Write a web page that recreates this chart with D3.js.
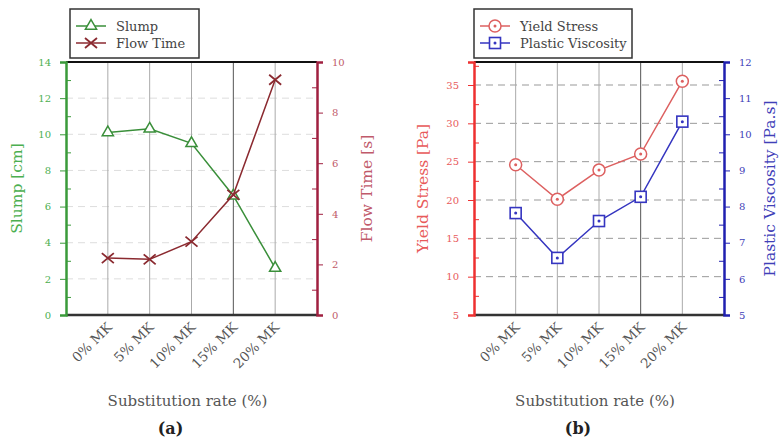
<!DOCTYPE html>
<html>
<head>
<meta charset="utf-8">
<script src="https://cdn.jsdelivr.net/npm/d3@7"></script>
<style>
  body { margin: 0; background: #fff; }
  svg text { font-family: "DejaVu Serif", "Liberation Serif", serif; }
</style>
</head>
<body>
<svg id="chart" width="782" height="441"></svg>
<script>
// --- data ---
const categories = ["0% MK", "5% MK", "10% MK", "15% MK", "20% MK"];
const slump = [10.1, 10.3, 9.5, 6.6, 2.6];
const flowTime = [2.25, 2.2, 2.9, 4.75, 9.3];
const yieldStress = [24.6, 20.1, 23.9, 26.0, 35.5];
const plasticViscosity = [7.82, 6.58, 7.6, 8.27, 10.35];

const slumpTicks = [0, 2, 4, 6, 8, 10, 12, 14];
const slumpMinor = [1, 3, 5, 7, 9, 11, 13];
const flowTicks = [0, 2, 4, 6, 8, 10];
const flowMinor = [1, 3, 5, 7, 9];
const yieldTicks = [5, 10, 15, 20, 25, 30, 35];
const yieldMinor = [7.5, 12.5, 17.5, 22.5, 27.5, 32.5, 37.5];
const viscTicks = [5, 6, 7, 8, 9, 10, 11, 12];
const viscMinor = [5.5, 6.5, 7.5, 8.5, 9.5, 10.5, 11.5];

const svg = d3.select("#chart");
svg.append("rect").attr("width", 782).attr("height", 441).attr("fill", "#fff");

const plotTop = 62, plotBottom = 315;

function drawPanel(p) {
    const g = svg.append("g");
    const x = d3.scalePoint().domain(categories).range([p.x0, p.x1]).padding(1);
    const yL = d3.scaleLinear().domain(p.leftDomain).range([plotBottom, plotTop]);
    const yR = d3.scaleLinear().domain(p.rightDomain).range([plotBottom, plotTop]);
    const fmt = d3.format("~g");

    // horizontal dashed grid
    g.append("g").selectAll("line")
        .data(p.gridTicks)
        .join("line")
        .attr("x1", p.x0).attr("x2", p.x1)
        .attr("y1", d => yL(d)).attr("y2", d => yL(d))
        .attr("stroke", p.gridColor).attr("stroke-width", 1)
        .attr("stroke-dasharray", "7,5");

    // vertical category grid
    g.append("g").selectAll("line")
        .data(categories)
        .join("line")
        .attr("x1", d => x(d)).attr("x2", d => x(d))
        .attr("y1", plotTop).attr("y2", plotBottom)
        .attr("stroke", (d, i) => i === 3 ? "#555" : "#aaa")
        .attr("stroke-width", 1);

    // top / bottom frame
    g.append("line").attr("x1", p.x0).attr("x2", p.x1).attr("y1", plotTop).attr("y2", plotTop)
        .attr("stroke", "#111").attr("stroke-width", 2);
    g.append("line").attr("x1", p.x0).attr("x2", p.x1).attr("y1", plotBottom).attr("y2", plotBottom)
        .attr("stroke", "#333").attr("stroke-width", 2.5);

    // left axis
    const axL = g.append("g").attr("transform", `translate(${p.x0},0)`)
        .call(d3.axisLeft(yL).tickValues(p.leftTicks).tickFormat(fmt).tickSize(6).tickPadding(9));
    g.append("g").attr("transform", `translate(${p.x0},0)`)
        .call(d3.axisLeft(yL).tickValues(p.leftMinor).tickSize(-5).tickFormat(""))
        .call(a => a.select(".domain").remove())
        .selectAll("line").attr("stroke", p.leftColor);
    axL.select(".domain").attr("stroke", p.leftColor).attr("stroke-width", 2.5);
    axL.selectAll(".tick line").attr("stroke", p.leftColor);
    axL.selectAll("text").attr("fill", p.leftText)
        .style("font-family", "DejaVu Serif").style("font-size", "10px");

    // right axis
    const axR = g.append("g").attr("transform", `translate(${p.x1},0)`)
        .call(d3.axisRight(yR).tickValues(p.rightTicks).tickFormat(fmt).tickSize(6).tickPadding(9));
    g.append("g").attr("transform", `translate(${p.x1},0)`)
        .call(d3.axisRight(yR).tickValues(p.rightMinor).tickSize(-5).tickFormat(""))
        .call(a => a.select(".domain").remove())
        .selectAll("line").attr("stroke", p.rightColor);
    axR.select(".domain").attr("stroke", p.rightColor).attr("stroke-width", 2.5);
    axR.selectAll(".tick line").attr("stroke", p.rightColor);
    axR.selectAll("text").attr("fill", p.rightText)
        .style("font-family", "DejaVu Serif").style("font-size", "10px");

    // x labels, rotated
    g.append("g").selectAll("text")
        .data(categories)
        .join("text")
        .attr("transform", d => `translate(${x(d) + 5},${plotBottom + 13}) rotate(-45)`)
        .attr("text-anchor", "end")
        .attr("fill", "#555")
        .style("font-size", "13.5px")
        .text(d => d);

    // axis titles
    g.append("text")
        .attr("transform", `translate(${p.leftTitleX},${(plotTop + plotBottom) / 2}) rotate(-90)`)
        .attr("text-anchor", "middle").attr("dominant-baseline", "central")
        .attr("fill", p.leftText).style("font-size", "15.5px")
        .text(p.leftTitle);
    g.append("text")
        .attr("transform", `translate(${p.rightTitleX},${(plotTop + plotBottom) / 2}) rotate(-90)`)
        .attr("text-anchor", "middle").attr("dominant-baseline", "central")
        .attr("fill", p.rightText).style("font-size", "15.5px")
        .text(p.rightTitle);
    g.append("text")
        .attr("x", (p.x0 + p.x1) / 2 - 4).attr("y", 406)
        .attr("text-anchor", "middle").attr("fill", "#555").style("font-size", "15px")
        .text("Substitution rate (%)");
    g.append("text")
        .attr("x", (p.x0 + p.x1) / 2 - 21).attr("y", 434)
        .attr("text-anchor", "middle").attr("fill", "#222")
        .style("font-size", "16px").style("font-weight", "bold")
        .text(p.panel);

    // series
    const series = [
        { vals: p.leftVals, y: yL, color: p.leftLine, marker: p.leftMarker },
        { vals: p.rightVals, y: yR, color: p.rightLine, marker: p.rightMarker }
    ];
    series.forEach(s => {
        const pts = categories.map((c, i) => [x(c), s.y(s.vals[i])]);
        g.append("path")
            .attr("d", d3.line()(pts))
            .attr("fill", "none").attr("stroke", s.color).attr("stroke-width", 1.5);
        pts.forEach(pt => drawMarker(g, s.marker, pt[0], pt[1], s.color));
    });

    // legend
    const lg = g.append("g");
    lg.append("rect")
        .attr("x", p.legX).attr("y", 9).attr("width", p.legW).attr("height", 49)
        .attr("fill", "#fff").attr("stroke", "#333").attr("stroke-width", 1.5);
    const items = [
        { name: p.leftName, color: p.leftLine, marker: p.leftMarker, y: 26 },
        { name: p.rightName, color: p.rightLine, marker: p.rightMarker, y: 43 }
    ];
    items.forEach(it => {
        lg.append("line")
            .attr("x1", p.legX + 6).attr("x2", p.legX + 36)
            .attr("y1", it.y).attr("y2", it.y)
            .attr("stroke", it.color).attr("stroke-width", 1.5);
        drawMarker(lg, it.marker, p.legX + 21, it.y, it.color);
        lg.append("text")
            .attr("x", p.legX + 46).attr("y", it.y).attr("dy", "0.35em")
            .attr("fill", "#444").style("font-size", "13px")
            .text(it.name);
    });
}

function drawMarker(g, type, cx, cy, color) {
    if (type === "triangle") {
        g.append("path")
            .attr("d", d3.symbol(d3.symbolTriangle2, 90)())
            .attr("transform", `translate(${cx},${cy})`)
            .attr("fill", "#fff").attr("stroke", color).attr("stroke-width", 1.5);
    } else if (type === "cross") {
        g.append("path")
            .attr("d", `M${cx - 6},${cy - 5}L${cx + 6},${cy + 5}M${cx - 6},${cy + 5}L${cx + 6},${cy - 5}`)
            .attr("stroke", color).attr("stroke-width", 1.8);
    } else if (type === "circle") {
        g.append("circle").attr("cx", cx).attr("cy", cy).attr("r", 6)
            .attr("fill", "#fff").attr("stroke", color).attr("stroke-width", 1.5);
        g.append("circle").attr("cx", cx).attr("cy", cy).attr("r", 1.5).attr("fill", color);
    } else if (type === "square") {
        g.append("rect").attr("x", cx - 5.5).attr("y", cy - 5.5).attr("width", 11).attr("height", 11)
            .attr("fill", "#fff").attr("stroke", color).attr("stroke-width", 1.6);
        g.append("circle").attr("cx", cx).attr("cy", cy).attr("r", 1.5).attr("fill", color);
    }
}

drawPanel({
    panel: "(a)",
    x0: 66, x1: 317,
    leftDomain: [0, 14], rightDomain: [0, 10],
    leftTicks: slumpTicks, leftMinor: slumpMinor,
    rightTicks: flowTicks, rightMinor: flowMinor,
    gridTicks: [2, 4, 6, 8, 10, 12], gridColor: "#ddd",
    leftVals: slump, rightVals: flowTime,
    leftName: "Slump", rightName: "Flow Time",
    leftTitle: "Slump [cm]", rightTitle: "Flow Time [s]",
    leftTitleX: 17, rightTitleX: 367,
    leftColor: "#3a9a3a", leftText: "#4caf50", leftLine: "#3a8f3a", leftMarker: "triangle",
    rightColor: "#a02040", rightText: "#c05a6a", rightLine: "#8b2a30", rightMarker: "cross",
    legX: 70, legW: 129
});

drawPanel({
    panel: "(b)",
    x0: 474, x1: 724,
    leftDomain: [5, 38], rightDomain: [5, 12],
    leftTicks: yieldTicks, leftMinor: yieldMinor,
    rightTicks: viscTicks, rightMinor: viscMinor,
    gridTicks: [10, 15, 20, 25, 30, 35], gridColor: "#999",
    leftVals: yieldStress, rightVals: plasticViscosity,
    leftName: "Yield Stress", rightName: "Plastic Viscosity",
    leftTitle: "Yield Stress [Pa]", rightTitle: "Plastic Viscosity [Pa.s]",
    leftTitleX: 423, rightTitleX: 770,
    leftColor: "#ee3030", leftText: "#e85a5a", leftLine: "#dd6060", leftMarker: "circle",
    rightColor: "#2020b0", rightText: "#4040b8", rightLine: "#3535c0", rightMarker: "square",
    legX: 474, legW: 158
});
</script>
</body>
</html>
